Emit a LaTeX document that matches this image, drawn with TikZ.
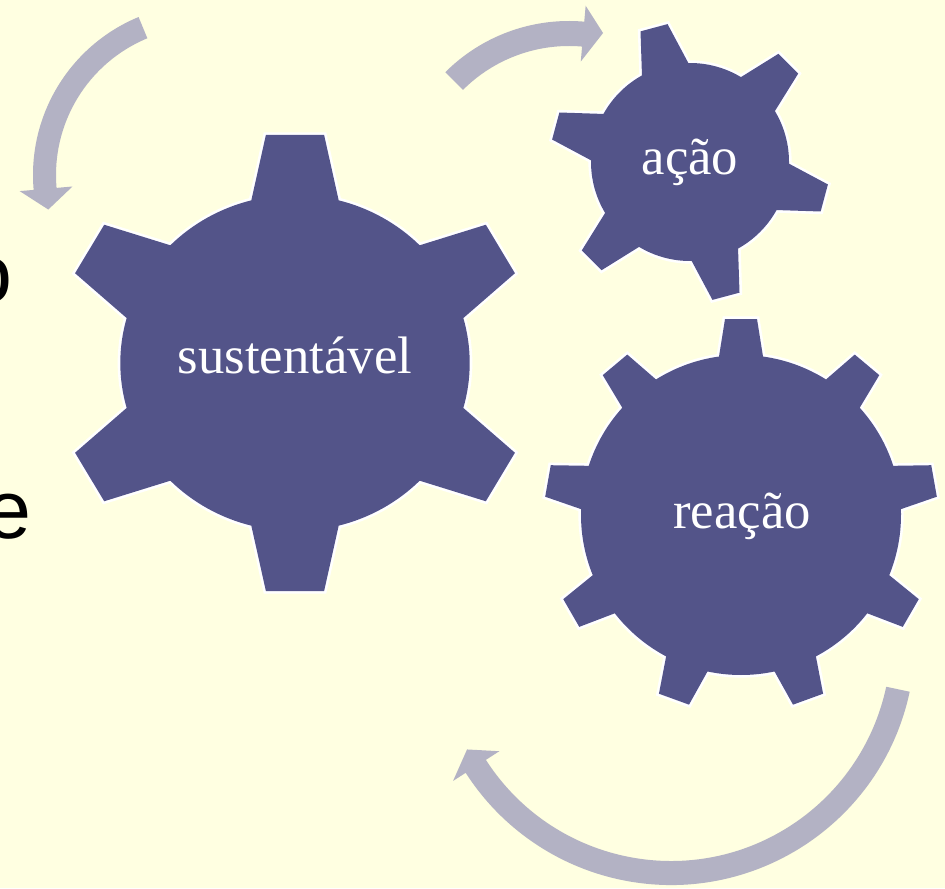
\documentclass[tikz,border=0pt]{standalone}
\usepackage{fontspec}
\setmainfont{Liberation Serif}
\newfontfamily\sansf{Liberation Sans}
\definecolor{bgc}{RGB}{255,255,225}
\definecolor{gearc}{RGB}{83,84,137}
\definecolor{arrc}{RGB}{179,178,196}
\tikzset{
  gearshape/.style={fill=gearc, preaction={draw=white, line width=3pt, line join=miter}},
  arrowshape/.style={fill=arrc, draw=none},
  geartext/.style={text=white, font=\fontsize{30}{36}\selectfont, inner sep=0pt, anchor=base},
  sidetext/.style={text=black, font=\sansf\fontsize{47}{56}\selectfont, inner sep=0pt, anchor=base east}
}
% #1,#2 centre; #3 teeth; #4 first tooth angle; #5 body radius; #6 tip radius; #7 base half-width; #8 tip half-width; #9 xscale
\newcommand{\mygear}[9]{%
  \begin{scope}[shift={(#1,#2)}, xscale=#9]
    \pgfmathsetmacro\gstep{360/#3}
    \pgfmathsetmacro\gdb{asin(#7/#5)}
    \path[gearshape] ({#4-\gdb}:#5)
      \foreach \k [evaluate=\k as \a using #4+(\k-1)*\gstep] in {1,...,#3} {
        -- ({#6*cos(\a)+#8*sin(\a)},{#6*sin(\a)-#8*cos(\a)})
        -- ({#6*cos(\a)-#8*sin(\a)},{#6*sin(\a)+#8*cos(\a)})
        -- ({\a+\gdb}:#5)
        arc[start angle={\a+\gdb}, end angle={\a+\gstep-\gdb}, radius=#5]
      } -- cycle;
  \end{scope}}
% arrow: #1,#2 centre; #3 tail angle; #4 head base angle; #5 inner r; #6 outer r; #7 head inner r; #8 head outer r; #9 tip angle / radius as a,r
\newcommand{\myarrow}[9]{%
  \begin{scope}[shift={(#1,#2)}]
    \path[arrowshape] (#3:#6) arc[start angle=#3, end angle=#4, radius=#6]
      -- (#4:#8) -- (#9) -- (#4:#7) -- (#4:#5)
      arc[start angle=#4, end angle=#3, radius=#5] -- cycle;
  \end{scope}}
\begin{document}
\begin{tikzpicture}[x=0.02cm, y=0.02cm]
  \fill[bgc] (0,0) rectangle (945,-888);
  \useasboundingbox (0,0) rectangle (945,-888);

  % text behind the diagram, cut by the left edge
  \node[sidetext] (lo) at (13,-302) {o};
  \node[sidetext] (le) at (32,-538) {e};

  % arrows
  \myarrow{204}{-175}{112.5}{185}{148}{171}{132}{185}{192.5:159.5}
  \myarrow{569}{-196}{135}{85}{150}{175}{135}{191}{78.2:166.5}
  \myarrow{671}{-641}{-12}{-147.3}{220}{244}{204}{259}{-152:231}

  % gears
  \mygear{295}{-363}{6}{30}{168}{228}{42}{28}{1.04}
  \mygear{690}{-162}{6}{105}{99}{139}{24}{14}{1}
  \mygear{741}{-515}{9}{10}{160}{196}{22}{16}{1}

  % labels
  \node[geartext] (sust) at (295,-373) {sustentável};
  \node[geartext] (acao) at (690,-175) {ação};
  \node[geartext] (reac) at (742,-528) {reação};
\end{tikzpicture}
\end{document}
